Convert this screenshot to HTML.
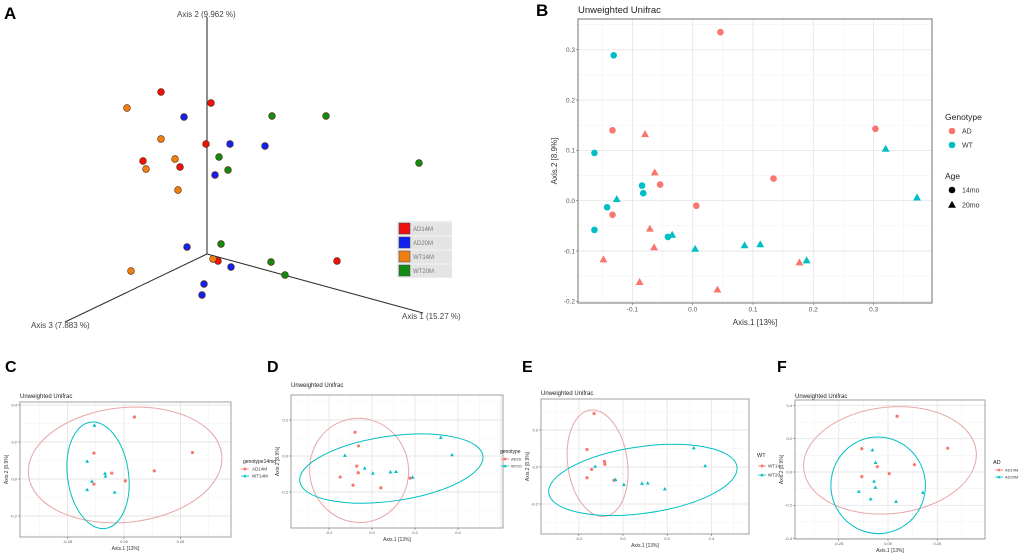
<!DOCTYPE html>
<html><head><meta charset="utf-8">
<style>
html,body{margin:0;padding:0;background:#fff;}
svg{display:block;font-family:"Liberation Sans",Arial,sans-serif;}
</style></head>
<body>
<svg id="fig" width="1020" height="558" viewBox="0 0 1020 558" xmlns="http://www.w3.org/2000/svg">
<rect width="1020" height="558" fill="#fff"/>
<g id="pA"></g>
<g id="pB"></g>
<g id="pC"></g>
<g id="pD"></g>
<g id="pE"></g>
<g id="pF"></g>
</svg>
<script>
// ---------- Panel A (3D projection coords, origin at axis intersection) ----------
const groupsA = ["AD14M","AD20M","WT14M","WT20M"];
const colorsA = ["#ee1111","#1122ee","#f07f12","#138a13"];
const ad14A_x = [-46,4,-1,-64,-27,11,130];
const ad14A_y = [162,151,110,93,87,-7,-7];
const ad20A_x = [-23,23,58,8,-20,24,-3,-5];
const ad20A_y = [137,110,108,79,7,-13,-30,-41];
const wt14A_x = [-80,-46,-32,-61,-29,-76,6];
const wt14A_y = [146,115,95,85,64,-17,-5];
const wt20A_x = [65,119,12,21,212,14,64,78];
const wt20A_y = [138,138,97,84,91,10,-8,-21];

// ---------- Panel B data ----------
const bXTicks = [-0.1,0.0,0.1,0.2,0.3];
const bYTicks = [-0.2,-0.1,0.0,0.1,0.2,0.3];
const ad14_x = [0.046,-0.133,-0.054,0.006,-0.133,0.134,0.303];
const ad14_y = [0.335,0.140,0.032,-0.010,-0.028,0.044,0.143];
const ad20_x = [-0.079,-0.063,-0.071,-0.064,-0.148,-0.088,0.041,0.177];
const ad20_y = [0.132,0.056,-0.056,-0.093,-0.117,-0.162,-0.177,-0.123];
const wt14_x = [-0.131,-0.163,-0.084,-0.082,-0.142,-0.163,-0.041];
const wt14_y = [0.289,0.095,0.030,0.015,-0.013,-0.058,-0.072];
const wt20_x = [-0.126,-0.034,0.004,0.086,0.112,0.189,0.320,0.372];
const wt20_y = [0.003,-0.068,-0.096,-0.089,-0.087,-0.119,0.103,0.006];

// ---------- Bottom panels ticks ----------
const cXTicks = [-0.25,0.00,0.25];
const cYTicks = [-0.2,0.0,0.2,0.4];
const dXTicks = [-0.2,0.0,0.2,0.4];
const dYTicks = [-0.2,0.0,0.2];
const eXTicks = [-0.2,0.0,0.2,0.4];
const eYTicks = [-0.2,0.0,0.2];
const fXTicks = [-0.25,0.00,0.25];
const fYTicks = [-0.4,-0.2,0.0,0.2,0.4];
// ellipses: [cx, cy, rx, ry, rotationDeg]
const cEllA = [0.005,0.076,0.43,0.31,-6];
const cEllB = [-0.115,0.02,0.135,0.29,-8];
const dEllA = [-0.06,-0.08,0.23,0.29,-8];
const dEllB = [0.09,-0.07,0.43,0.18,-8];
const eEllA = [-0.115,0.02,0.135,0.29,-8];
const eEllB = [0.09,-0.07,0.43,0.18,-8];
const fEllA = [0.01,0.07,0.44,0.32,-6];
const fEllB = [-0.05,-0.08,0.24,0.29,-6];

const RED="#F8766D", TEAL="#00BFC4";
const NS="http://www.w3.org/2000/svg";
function el(parent,tag,attrs,text){
  const e=document.createElementNS(NS,tag);
  for(const k in attrs) e.setAttribute(k,attrs[k]);
  if(text!==undefined) e.textContent=text;
  parent.appendChild(e);
  return e;
}
function fmt(v,d){return v.toFixed(d);}

// ---------- Panel A ----------
(function(){
  const g=document.getElementById('pA');
  const ox=207, oy=254;
  const sx=v=>ox+v, sy=v=>oy-v;
  const t=el(g,'text',{x:4,y:19,'font-size':17,'font-weight':'bold',fill:'#000'},'A');
  
  
  const axes=[[207,17,'axis-2-line'],[423,313,'axis-1-line'],[65,322,'axis-3-line']];
  axes.forEach(a=>{
    const l=el(g,'line',{x1:ox,y1:oy,x2:a[0],y2:a[1],stroke:'#333','stroke-width':1.1});
    
    
  });
  const labs=[[177,17,'Axis 2 (9.962 %)','axis-2-label'],[402,319,'Axis 1 (15.27 %)','axis-1-label'],[31,328,'Axis 3 (7.883 %)','axis-3-label']];
  labs.forEach(a=>{
    const l=el(g,'text',{x:a[0],y:a[1],'font-size':8,fill:'#444'},a[2]);
    
    
  });
  const sets=[[ad14A_x,ad14A_y],[ad20A_x,ad20A_y],[wt14A_x,wt14A_y],[wt20A_x,wt20A_y]];
  sets.forEach((s,gi)=>{
    s[0].forEach((v,i)=>{
      const c=el(g,'circle',{cx:sx(v),cy:sy(s[1][i]),r:3.4,fill:colorsA[gi],stroke:'#552200','stroke-width':0.6});
      
      
    });
  });
  const lg=el(g,'g',{});
  
  
  el(lg,'rect',{x:397,y:221,width:55,height:57,fill:'#ececec'});
  groupsA.forEach((n,i)=>{
    const y=222+i*14;
    el(lg,'rect',{x:398,y:y+1,width:54,height:12,fill:'#e4e4e4'});
    const sw=el(lg,'rect',{x:399,y:y+1,width:11,height:11,fill:colorsA[i],stroke:'#444','stroke-width':0.5});
    
    
    const tx=el(lg,'text',{x:413,y:y+9,'font-size':6,fill:'#777'},n);
    
    
  });
})();

// ---------- generic ggplot-like panel ----------
function panel(cfg){
  const g=document.getElementById(cfg.id);
  const X=v=>cfg.px0+v*cfg.kx, Y=v=>cfg.py0-v*cfg.ky;
  const b=cfg.box;
  const lab=el(g,'text',{x:cfg.label[0],y:cfg.label[1],'font-size':cfg.labelSize,'font-weight':'bold',fill:'#000'},cfg.label[2]);
  
  
  const ti=el(g,'text',{x:b[0],y:cfg.titleY,'font-size':cfg.titleSize,fill:'#222'},'Unweighted Unifrac');
  
  
  // grids
  const gg=el(g,'g',{});
  
  
  const xs=cfg.xt, ys=cfg.yt;
  const dx=xs[1]-xs[0], dy=ys[1]-ys[0];
  for(let v=xs[0]-2*dx; v<=xs[xs.length-1]+2*dx+1e-9; v+=dx/2){
    const p=X(v); if(p<=b[0]||p>=b[2]) continue;
    const major=Math.abs(Math.round((v-xs[0])/dx)*dx-(v-xs[0]))<1e-6;
    el(gg,'line',{x1:p,y1:b[1],x2:p,y2:b[3],stroke:major?'#e6e6e6':'#f2f2f2','stroke-width':major?0.9:0.6});
  }
  for(let v=ys[0]-2*dy; v<=ys[ys.length-1]+2*dy+1e-9; v+=dy/2){
    const p=Y(v); if(p<=b[1]||p>=b[3]) continue;
    const major=Math.abs(Math.round((v-ys[0])/dy)*dy-(v-ys[0]))<1e-6;
    el(gg,'line',{x1:b[0],y1:p,x2:b[2],y2:p,stroke:major?'#e6e6e6':'#f2f2f2','stroke-width':major?0.9:0.6});
  }
  // ellipses
  (cfg.ell||[]).forEach((e,i)=>{
    const cx=X(e[0]), cy=Y(e[1]), rx=e[2]*cfg.kx, ry=e[3]*cfg.ky;
    const E=el(g,'ellipse',{cx:cx,cy:cy,rx:rx,ry:ry,fill:'none',stroke:i?TEAL:'#e8a6a6','stroke-width':1,transform:`rotate(${e[4]} ${cx} ${cy})`});
    
    
  });
  // points
  cfg.series.forEach(s=>{
    s.x.forEach((v,i)=>{
      const px=X(v), py=Y(s.y[i]), r=cfg.ms;
      let m;
      if(s.shape==='tri'){
        m=el(g,'polygon',{points:`${px},${py-r*1.25} ${px-r*1.2},${py+r*0.85} ${px+r*1.2},${py+r*0.85}`,fill:s.color});
      } else {
        m=el(g,'circle',{cx:px,cy:py,r:r,fill:s.color});
      }
      
      
    });
  });
  // border
  const bd=el(g,'rect',{x:b[0],y:b[1],width:b[2]-b[0],height:b[3]-b[1],fill:'none',stroke:'#8a8a8a','stroke-width':cfg.bw});
  
  
  // ticks
  xs.forEach(v=>{
    const p=X(v);
    el(g,'line',{x1:p,y1:b[3],x2:p,y2:b[3]+2,stroke:'#666','stroke-width':0.6});
    const t=el(g,'text',{x:p,y:b[3]+2+cfg.tickSize,'font-size':cfg.tickSize,fill:'#555','text-anchor':'middle'},fmt(v,cfg.xd));
    
    
  });
  ys.forEach(v=>{
    const p=Y(v);
    el(g,'line',{x1:b[0]-2,y1:p,x2:b[0],y2:p,stroke:'#666','stroke-width':0.6});
    const t=el(g,'text',{x:b[0]-3,y:p+cfg.tickSize*0.35,'font-size':cfg.tickSize,fill:'#555','text-anchor':'end'},fmt(v,1));
    
    
  });
  const xt=el(g,'text',{x:(b[0]+b[2])/2,y:cfg.xTitleY,'font-size':cfg.axSize,fill:'#333','text-anchor':'middle'},'Axis.1   [13%]');
  
  
  const yy=(b[1]+b[3])/2;
  const yt=el(g,'text',{x:cfg.yTitleX,y:yy,'font-size':cfg.axSize,fill:'#333','text-anchor':'middle',transform:`rotate(-90 ${cfg.yTitleX} ${yy})`},'Axis.2   [8.9%]');
  
  
  // legend
  const L=cfg.legend, lg=el(g,'g',{});
  
  
  L.items.forEach(it=>{
    if(it.title){
      const t=el(lg,'text',{x:it.x,y:it.y,'font-size':L.titleSize,fill:'#222'},it.title);
      
      
      return;
    }
    const r=L.ms;
    let m;
    if(it.shape==='tri') m=el(lg,'polygon',{points:`${it.x},${it.y-r*1.25} ${it.x-r*1.2},${it.y+r*0.85} ${it.x+r*1.2},${it.y+r*0.85}`,fill:it.color});
    else m=el(lg,'circle',{cx:it.x,cy:it.y,r:r,fill:it.color});
    
    
    if(it.line) el(lg,'line',{x1:it.x-4,y1:it.y,x2:it.x+4,y2:it.y,stroke:it.color,'stroke-width':0.8});
    const t=el(lg,'text',{x:it.x+L.dx,y:it.y+L.size*0.35,'font-size':L.size,fill:'#333'},it.label);
    
    
  });
}

panel({id:'pB',box:[578,19,932,303],px0:692.7,kx:603,py0:200.7,ky:503,xt:bXTicks,yt:bYTicks,xd:1,
  label:[536,16,'B'],labelSize:17,titleY:13,titleSize:9.5,bw:1.2,ms:3.3,tickSize:6.5,axSize:8,xTitleY:325,yTitleX:557,
  series:[{name:'ad-14mo',x:ad14_x,y:ad14_y,color:RED,shape:'dot'},{name:'ad-20mo',x:ad20_x,y:ad20_y,color:RED,shape:'tri'},
          {name:'wt-14mo',x:wt14_x,y:wt14_y,color:TEAL,shape:'dot'},{name:'wt-20mo',x:wt20_x,y:wt20_y,color:TEAL,shape:'tri'}],
  legend:{size:7,titleSize:8.5,ms:3.3,dx:10,items:[{title:'Genotype',x:945,y:120},{x:952,y:131,color:RED,label:'AD'},{x:952,y:145,color:TEAL,label:'WT'},
    {title:'Age',x:945,y:179},{x:952,y:190,color:'#000',label:'14mo'},{x:952,y:205,color:'#000',shape:'tri',label:'20mo'}]}});

panel({id:'pC',box:[20,402,231,537],px0:124,kx:226,py0:479,ky:185,xt:cXTicks,yt:cYTicks,xd:2,
  label:[5,372,'C'],labelSize:16,titleY:398,titleSize:6,bw:0.8,ms:1.6,tickSize:4,axSize:5,xTitleY:550,yTitleX:8,ell:[cEllA,cEllB],
  series:[{name:'ad14m',x:ad14_x,y:ad14_y,color:RED,shape:'dot'},{name:'wt14m',x:wt14_x,y:wt14_y,color:TEAL,shape:'tri'}],
  legend:{size:4.5,titleSize:5,ms:1.5,dx:7,items:[{title:'genotype14mo',x:243,y:463},{x:245,y:469,color:RED,label:'AD14M',line:1},{x:245,y:476,color:TEAL,shape:'tri',label:'WT14M',line:1}]}});

panel({id:'pD',box:[291,395,503,528],px0:372,kx:215,py0:456,ky:180,xt:dXTicks,yt:dYTicks,xd:1,
  label:[267,372,'D'],labelSize:16,titleY:387,titleSize:6,bw:0.8,ms:1.6,tickSize:4,axSize:5,xTitleY:541,yTitleX:279,ell:[dEllA,dEllB],
  series:[{name:'ad20',x:ad20_x,y:ad20_y,color:RED,shape:'dot'},{name:'wt20',x:wt20_x,y:wt20_y,color:TEAL,shape:'tri'}],
  legend:{size:4,titleSize:5,ms:1.4,dx:6,items:[{title:'genotype',x:500,y:453},{x:505,y:459,color:RED,label:'AD20',line:1},{x:505,y:466,color:TEAL,shape:'tri',label:'WT20',line:1}]}});

panel({id:'pE',box:[541,399,749,534],px0:623,kx:221,py0:467,ky:185,xt:eXTicks,yt:eYTicks,xd:1,
  label:[522,372,'E'],labelSize:16,titleY:395,titleSize:6,bw:0.8,ms:1.6,tickSize:4,axSize:5,xTitleY:547,yTitleX:529,ell:[eEllA,eEllB],
  series:[{name:'wt14',x:wt14_x,y:wt14_y,color:RED,shape:'dot'},{name:'wt20',x:wt20_x,y:wt20_y,color:TEAL,shape:'tri'}],
  legend:{size:4.5,titleSize:5.5,ms:1.5,dx:6,items:[{title:'WT',x:757,y:457},{x:762,y:466,color:RED,label:'WT14',line:1},{x:762,y:475,color:TEAL,shape:'tri',label:'WT20',line:1}]}});

panel({id:'pF',box:[795,400,985,539],px0:888,kx:197,py0:472,ky:166.5,xt:fXTicks,yt:fYTicks,xd:2,
  label:[777,372,'F'],labelSize:16,titleY:398,titleSize:6,bw:0.8,ms:1.6,tickSize:4,axSize:5,xTitleY:552,yTitleX:783,ell:[fEllA,fEllB],
  series:[{name:'ad14m',x:ad14_x,y:ad14_y,color:RED,shape:'dot'},{name:'ad20m',x:ad20_x,y:ad20_y,color:TEAL,shape:'tri'}],
  legend:{size:4,titleSize:5.5,ms:1.4,dx:6,items:[{title:'AD',x:993,y:464},{x:999,y:470,color:RED,label:'AD14M',line:1},{x:999,y:477,color:TEAL,shape:'tri',label:'AD20M',line:1}]}});
</script>
</body></html>
